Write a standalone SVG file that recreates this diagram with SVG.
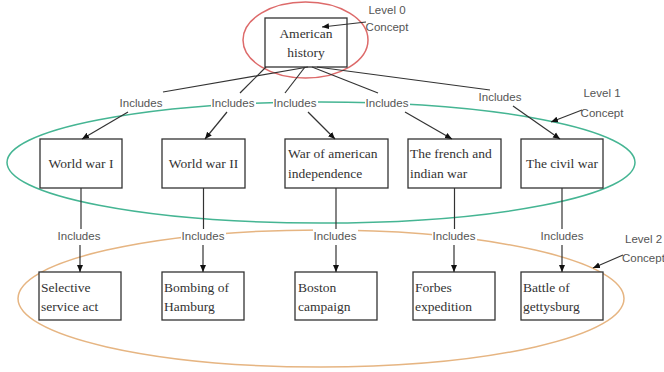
<svg xmlns="http://www.w3.org/2000/svg" width="664" height="372" viewBox="0 0 664 372">
  <style>
    .box { fill: #ffffff; stroke: #333333; stroke-width: 1.3; }
    .t { font-family: "Liberation Serif", "Times New Roman", serif; font-size: 13.5px; fill: #333333; }
    .lbl { font-family: "Liberation Sans", Arial, sans-serif; font-size: 11.5px; fill: #555555; }
    .lblbg { fill: #ffffff; }
    .edge { stroke: #333333; stroke-width: 1.2; fill: none; }
    .arr { stroke: #333333; stroke-width: 1.2; fill: none; marker-end: url(#head); }
    .ring { fill: none; stroke-width: 1.5; }
  </style>
  <defs>
    <marker id="head" markerWidth="8" markerHeight="8" refX="7" refY="4" orient="auto" markerUnits="userSpaceOnUse">
      <path d="M0,1 L7,4 L0,7 Z" fill="#111111"/>
    </marker>
  </defs>
  <rect width="664" height="372" fill="#ffffff"/>

  <!-- concept level rings -->
  <g id="rings">
    <ellipse class="ring" cx="305.5" cy="40" rx="62.5" ry="38" stroke="#dd6a6a"/>
    <ellipse class="ring" cx="321" cy="162.5" rx="314" ry="60.5" stroke="#45b593"/>
    <ellipse class="ring" cx="321" cy="298.5" rx="303" ry="68.5" stroke="#e6b582"/>
  </g>

  <!-- relation labels -->
  <g id="relations">
    <rect class="lblbg" x="119" y="96" width="45" height="13"/>
    <text class="lbl" x="141" y="107" text-anchor="middle">Includes</text>
    <rect class="lblbg" x="211" y="96" width="45" height="13"/>
    <text class="lbl" x="233" y="107" text-anchor="middle">Includes</text>
    <rect class="lblbg" x="273" y="96" width="45" height="13"/>
    <text class="lbl" x="295" y="107" text-anchor="middle">Includes</text>
    <rect class="lblbg" x="365" y="96" width="45" height="13"/>
    <text class="lbl" x="387" y="107" text-anchor="middle">Includes</text>
    <rect class="lblbg" x="478" y="90" width="45" height="13"/>
    <text class="lbl" x="500" y="101" text-anchor="middle">Includes</text>

    <rect class="lblbg" x="57" y="229" width="45" height="13"/>
    <text class="lbl" x="79" y="240" text-anchor="middle">Includes</text>
    <rect class="lblbg" x="181" y="229" width="45" height="13"/>
    <text class="lbl" x="203" y="240" text-anchor="middle">Includes</text>
    <rect class="lblbg" x="313" y="229" width="45" height="13"/>
    <text class="lbl" x="335" y="240" text-anchor="middle">Includes</text>
    <rect class="lblbg" x="432" y="229" width="45" height="13"/>
    <text class="lbl" x="454" y="240" text-anchor="middle">Includes</text>
    <rect class="lblbg" x="540" y="229" width="45" height="13"/>
    <text class="lbl" x="562" y="240" text-anchor="middle">Includes</text>
  </g>

  <!-- level captions -->
  <g id="level0">
    <text class="lbl" x="387" y="14" text-anchor="middle">Level 0</text>
    <text class="lbl" x="387" y="31" text-anchor="middle">Concept</text>
  </g>
  <g id="level1">
    <text class="lbl" x="602" y="97" text-anchor="middle">Level 1</text>
    <text class="lbl" x="602" y="117" text-anchor="middle">Concept</text>
  </g>
  <g id="level2">
    <text class="lbl" x="625" y="243">Level 2</text>
    <text class="lbl" x="622" y="262">Concept</text>
  </g>

  <!-- root -->
  <g id="american-history">
    <rect class="box" x="265" y="18" width="82" height="49"/>
    <text class="t" x="306" y="38" text-anchor="middle">American</text>
    <text class="t" x="306" y="57" text-anchor="middle">history</text>
  </g>

  <!-- level 1 concepts -->
  <g id="world-war-1">
    <rect class="box" x="40" y="139" width="82" height="49"/>
    <text class="t" x="81" y="168" text-anchor="middle">World war I</text>
  </g>
  <g id="world-war-2">
    <rect class="box" x="162" y="139" width="83" height="49"/>
    <text class="t" x="203.5" y="168" text-anchor="middle">World war II</text>
  </g>
  <g id="war-of-independence">
    <rect class="box" x="285" y="139" width="103" height="49"/>
    <text class="t" x="288" y="158">War of american</text>
    <text class="t" x="288" y="178">independence</text>
  </g>
  <g id="french-indian-war">
    <rect class="box" x="408" y="139" width="93" height="49"/>
    <text class="t" x="410" y="158">The french and</text>
    <text class="t" x="410" y="178">indian war</text>
  </g>
  <g id="civil-war">
    <rect class="box" x="521" y="139" width="82" height="49"/>
    <text class="t" x="562" y="168" text-anchor="middle">The civil war</text>
  </g>

  <!-- level 2 concepts -->
  <g id="selective-service-act">
    <rect class="box" x="39" y="272" width="82" height="48"/>
    <text class="t" x="41" y="292">Selective</text>
    <text class="t" x="41" y="311">service act</text>
  </g>
  <g id="bombing-of-hamburg">
    <rect class="box" x="162" y="272" width="82" height="48"/>
    <text class="t" x="164" y="292">Bombing of</text>
    <text class="t" x="164" y="311">Hamburg</text>
  </g>
  <g id="boston-campaign">
    <rect class="box" x="295" y="272" width="82" height="48"/>
    <text class="t" x="298" y="292">Boston</text>
    <text class="t" x="298" y="311">campaign</text>
  </g>
  <g id="forbes-expedition">
    <rect class="box" x="413" y="272" width="82" height="48"/>
    <text class="t" x="415" y="292">Forbes</text>
    <text class="t" x="415" y="311">expedition</text>
  </g>
  <g id="battle-of-gettysburg">
    <rect class="box" x="521" y="272" width="82" height="48"/>
    <text class="t" x="523" y="292">Battle of</text>
    <text class="t" x="523" y="311">gettysburg</text>
  </g>

  <!-- connectors, drawn over the boxes so pointer heads stay visible -->
  <g id="connectors">
    <!-- root to level 1 links -->
    <line class="edge" x1="308" y1="67" x2="163" y2="92"/>
    <line class="edge" x1="266" y1="67" x2="240" y2="93"/>
    <line class="edge" x1="305" y1="67" x2="285" y2="93"/>
    <line class="edge" x1="312" y1="67" x2="378" y2="93"/>
    <line class="edge" x1="317" y1="67" x2="490" y2="90"/>
    <line class="arr" x1="128" y1="112" x2="82" y2="139"/>
    <line class="arr" x1="227" y1="112" x2="205" y2="139"/>
    <line class="arr" x1="308" y1="112" x2="335" y2="139"/>
    <line class="arr" x1="405" y1="112" x2="452" y2="139"/>
    <line class="arr" x1="513" y1="106" x2="560" y2="139"/>
    <!-- level 1 to level 2 links -->
    <line class="edge" x1="81" y1="188" x2="81" y2="229"/>
    <line class="edge" x1="203.5" y1="188" x2="203.5" y2="229"/>
    <line class="edge" x1="336" y1="188" x2="336" y2="229"/>
    <line class="edge" x1="454.5" y1="188" x2="454.5" y2="229"/>
    <line class="edge" x1="562" y1="188" x2="562" y2="229"/>
    <line class="arr" x1="80" y1="245" x2="80" y2="272"/>
    <line class="arr" x1="203" y1="245" x2="203" y2="272"/>
    <line class="arr" x1="336" y1="245" x2="336" y2="272"/>
    <line class="arr" x1="454" y1="245" x2="454" y2="272"/>
    <line class="arr" x1="562" y1="245" x2="562" y2="272"/>
    <!-- level pointers -->
    <line class="arr" x1="366" y1="22" x2="322" y2="27"/>
    <line class="arr" x1="582" y1="110" x2="551" y2="122"/>
    <line class="arr" x1="623" y1="255" x2="593" y2="268"/>
  </g>
</svg>
